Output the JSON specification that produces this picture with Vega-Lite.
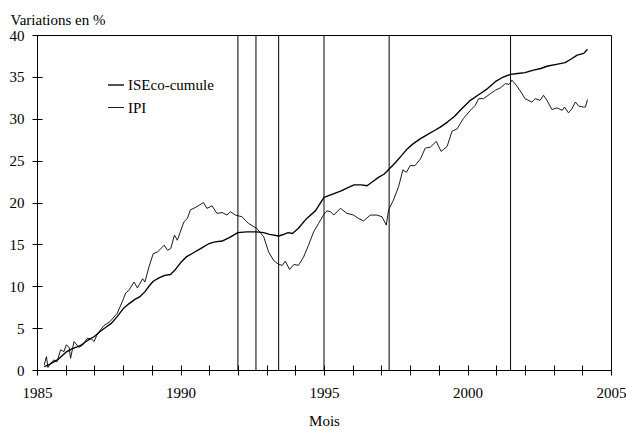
{
  "$schema": "https://vega.github.io/schema/vega-lite/v6.json",
  "width": 574,
  "height": 335,
  "autosize": {"type": "none"},
  "padding": {"left": 37, "top": 35, "right": 15, "bottom": 57},
  "background": "white",
  "config": {
    "view": {"stroke": "black", "strokeWidth": 1},
    "font": "'Liberation Serif', 'Times New Roman', Times, serif",
    "axis": {
      "labelFont": "'Liberation Serif', 'Times New Roman', Times, serif",
      "titleFont": "'Liberation Serif', 'Times New Roman', Times, serif",
      "labelFontSize": 15,
      "titleFontSize": 15,
      "titleFontWeight": "normal",
      "labelColor": "black",
      "titleColor": "black",
      "domainColor": "black",
      "tickColor": "black",
      "labelFlush": false,
      "grid": false
    },
    "legend": {"labelFont": "'Liberation Serif', 'Times New Roman', Times, serif", "labelFontSize": 15, "labelColor": "black"}
  },
  "datasets": {
    "series": [
      {"serie": "ISEco-cumule", "t": 1985.25, "v": 0.4},
      {"serie": "ISEco-cumule", "t": 1985.4, "v": 0.6},
      {"serie": "ISEco-cumule", "t": 1985.6, "v": 1.0},
      {"serie": "ISEco-cumule", "t": 1985.75, "v": 1.3},
      {"serie": "ISEco-cumule", "t": 1986.0, "v": 2.1},
      {"serie": "ISEco-cumule", "t": 1986.2, "v": 2.5},
      {"serie": "ISEco-cumule", "t": 1986.5, "v": 2.9},
      {"serie": "ISEco-cumule", "t": 1986.75, "v": 3.5},
      {"serie": "ISEco-cumule", "t": 1987.0, "v": 4.0},
      {"serie": "ISEco-cumule", "t": 1987.2, "v": 4.6},
      {"serie": "ISEco-cumule", "t": 1987.4, "v": 5.1},
      {"serie": "ISEco-cumule", "t": 1987.6, "v": 5.6},
      {"serie": "ISEco-cumule", "t": 1987.8, "v": 6.4},
      {"serie": "ISEco-cumule", "t": 1988.0, "v": 7.3},
      {"serie": "ISEco-cumule", "t": 1988.2, "v": 7.9},
      {"serie": "ISEco-cumule", "t": 1988.4, "v": 8.4},
      {"serie": "ISEco-cumule", "t": 1988.6, "v": 8.8},
      {"serie": "ISEco-cumule", "t": 1988.75, "v": 9.3},
      {"serie": "ISEco-cumule", "t": 1988.9, "v": 10.0},
      {"serie": "ISEco-cumule", "t": 1989.05, "v": 10.6},
      {"serie": "ISEco-cumule", "t": 1989.25, "v": 11.0},
      {"serie": "ISEco-cumule", "t": 1989.45, "v": 11.3},
      {"serie": "ISEco-cumule", "t": 1989.65, "v": 11.4},
      {"serie": "ISEco-cumule", "t": 1989.8, "v": 11.9},
      {"serie": "ISEco-cumule", "t": 1990.0, "v": 12.8},
      {"serie": "ISEco-cumule", "t": 1990.2, "v": 13.5},
      {"serie": "ISEco-cumule", "t": 1990.45, "v": 14.0},
      {"serie": "ISEco-cumule", "t": 1990.7, "v": 14.5},
      {"serie": "ISEco-cumule", "t": 1991.0, "v": 15.1},
      {"serie": "ISEco-cumule", "t": 1991.2, "v": 15.3},
      {"serie": "ISEco-cumule", "t": 1991.45, "v": 15.4},
      {"serie": "ISEco-cumule", "t": 1991.7, "v": 15.8},
      {"serie": "ISEco-cumule", "t": 1992.0, "v": 16.4},
      {"serie": "ISEco-cumule", "t": 1992.3, "v": 16.5},
      {"serie": "ISEco-cumule", "t": 1992.65, "v": 16.5},
      {"serie": "ISEco-cumule", "t": 1992.9, "v": 16.4},
      {"serie": "ISEco-cumule", "t": 1993.1, "v": 16.2},
      {"serie": "ISEco-cumule", "t": 1993.42, "v": 16.0},
      {"serie": "ISEco-cumule", "t": 1993.6, "v": 16.2},
      {"serie": "ISEco-cumule", "t": 1993.75, "v": 16.4},
      {"serie": "ISEco-cumule", "t": 1993.9, "v": 16.3},
      {"serie": "ISEco-cumule", "t": 1994.1, "v": 16.9},
      {"serie": "ISEco-cumule", "t": 1994.4, "v": 18.1},
      {"serie": "ISEco-cumule", "t": 1994.7, "v": 19.0},
      {"serie": "ISEco-cumule", "t": 1995.0, "v": 20.6},
      {"serie": "ISEco-cumule", "t": 1995.3, "v": 21.0},
      {"serie": "ISEco-cumule", "t": 1995.6, "v": 21.4},
      {"serie": "ISEco-cumule", "t": 1995.85, "v": 21.8},
      {"serie": "ISEco-cumule", "t": 1996.05, "v": 22.1},
      {"serie": "ISEco-cumule", "t": 1996.3, "v": 22.1},
      {"serie": "ISEco-cumule", "t": 1996.5, "v": 22.0},
      {"serie": "ISEco-cumule", "t": 1996.7, "v": 22.5},
      {"serie": "ISEco-cumule", "t": 1996.9, "v": 23.0},
      {"serie": "ISEco-cumule", "t": 1997.1, "v": 23.4},
      {"serie": "ISEco-cumule", "t": 1997.27, "v": 24.0},
      {"serie": "ISEco-cumule", "t": 1997.5, "v": 24.8},
      {"serie": "ISEco-cumule", "t": 1997.7, "v": 25.6},
      {"serie": "ISEco-cumule", "t": 1997.9, "v": 26.4},
      {"serie": "ISEco-cumule", "t": 1998.1, "v": 27.0},
      {"serie": "ISEco-cumule", "t": 1998.35, "v": 27.6},
      {"serie": "ISEco-cumule", "t": 1998.6, "v": 28.1},
      {"serie": "ISEco-cumule", "t": 1998.85, "v": 28.6},
      {"serie": "ISEco-cumule", "t": 1999.05, "v": 29.0},
      {"serie": "ISEco-cumule", "t": 1999.3, "v": 29.6},
      {"serie": "ISEco-cumule", "t": 1999.55, "v": 30.3},
      {"serie": "ISEco-cumule", "t": 1999.8, "v": 31.2},
      {"serie": "ISEco-cumule", "t": 2000.1, "v": 32.2},
      {"serie": "ISEco-cumule", "t": 2000.4, "v": 32.9},
      {"serie": "ISEco-cumule", "t": 2000.7, "v": 33.6},
      {"serie": "ISEco-cumule", "t": 2001.0, "v": 34.5},
      {"serie": "ISEco-cumule", "t": 2001.2, "v": 34.9},
      {"serie": "ISEco-cumule", "t": 2001.5, "v": 35.3},
      {"serie": "ISEco-cumule", "t": 2001.75, "v": 35.4},
      {"serie": "ISEco-cumule", "t": 2002.0, "v": 35.5},
      {"serie": "ISEco-cumule", "t": 2002.3, "v": 35.8},
      {"serie": "ISEco-cumule", "t": 2002.55, "v": 36.0},
      {"serie": "ISEco-cumule", "t": 2002.8, "v": 36.3},
      {"serie": "ISEco-cumule", "t": 2003.1, "v": 36.5},
      {"serie": "ISEco-cumule", "t": 2003.4, "v": 36.7},
      {"serie": "ISEco-cumule", "t": 2003.6, "v": 37.1},
      {"serie": "ISEco-cumule", "t": 2003.82, "v": 37.6},
      {"serie": "ISEco-cumule", "t": 2004.05, "v": 37.8},
      {"serie": "ISEco-cumule", "t": 2004.18, "v": 38.3},
      {"serie": "IPI", "t": 1985.25, "v": 0.6},
      {"serie": "IPI", "t": 1985.33, "v": 1.6},
      {"serie": "IPI", "t": 1985.38, "v": 0.3},
      {"serie": "IPI", "t": 1985.5, "v": 0.9},
      {"serie": "IPI", "t": 1985.59, "v": 1.2},
      {"serie": "IPI", "t": 1985.7, "v": 1.0},
      {"serie": "IPI", "t": 1985.82, "v": 2.4},
      {"serie": "IPI", "t": 1985.94, "v": 2.2},
      {"serie": "IPI", "t": 1986.02, "v": 3.0},
      {"serie": "IPI", "t": 1986.12, "v": 2.7},
      {"serie": "IPI", "t": 1986.17, "v": 1.4},
      {"serie": "IPI", "t": 1986.29, "v": 3.4},
      {"serie": "IPI", "t": 1986.46, "v": 2.7},
      {"serie": "IPI", "t": 1986.6, "v": 3.0},
      {"serie": "IPI", "t": 1986.75, "v": 3.8},
      {"serie": "IPI", "t": 1986.9, "v": 3.7},
      {"serie": "IPI", "t": 1986.99, "v": 3.4},
      {"serie": "IPI", "t": 1987.1, "v": 4.3},
      {"serie": "IPI", "t": 1987.33, "v": 5.3},
      {"serie": "IPI", "t": 1987.55, "v": 5.8},
      {"serie": "IPI", "t": 1987.8, "v": 6.8},
      {"serie": "IPI", "t": 1988.0, "v": 8.4},
      {"serie": "IPI", "t": 1988.09, "v": 9.2},
      {"serie": "IPI", "t": 1988.2, "v": 9.5},
      {"serie": "IPI", "t": 1988.38, "v": 10.5},
      {"serie": "IPI", "t": 1988.5, "v": 9.8},
      {"serie": "IPI", "t": 1988.68, "v": 10.9},
      {"serie": "IPI", "t": 1988.76, "v": 10.5},
      {"serie": "IPI", "t": 1988.9, "v": 12.3},
      {"serie": "IPI", "t": 1989.05, "v": 13.9},
      {"serie": "IPI", "t": 1989.2, "v": 14.1},
      {"serie": "IPI", "t": 1989.43, "v": 14.9},
      {"serie": "IPI", "t": 1989.55, "v": 14.3},
      {"serie": "IPI", "t": 1989.66, "v": 14.5},
      {"serie": "IPI", "t": 1989.79, "v": 16.1},
      {"serie": "IPI", "t": 1989.89, "v": 15.5},
      {"serie": "IPI", "t": 1990.12, "v": 17.7},
      {"serie": "IPI", "t": 1990.24, "v": 18.1},
      {"serie": "IPI", "t": 1990.34, "v": 19.1},
      {"serie": "IPI", "t": 1990.57, "v": 19.5},
      {"serie": "IPI", "t": 1990.8, "v": 20.0},
      {"serie": "IPI", "t": 1990.92, "v": 19.3},
      {"serie": "IPI", "t": 1991.1, "v": 19.6},
      {"serie": "IPI", "t": 1991.27, "v": 18.7},
      {"serie": "IPI", "t": 1991.45, "v": 18.8},
      {"serie": "IPI", "t": 1991.62, "v": 18.5},
      {"serie": "IPI", "t": 1991.74, "v": 18.9},
      {"serie": "IPI", "t": 1991.91, "v": 18.5},
      {"serie": "IPI", "t": 1992.14, "v": 18.3},
      {"serie": "IPI", "t": 1992.37, "v": 17.5},
      {"serie": "IPI", "t": 1992.66, "v": 16.9},
      {"serie": "IPI", "t": 1992.9, "v": 15.9},
      {"serie": "IPI", "t": 1993.07, "v": 14.1},
      {"serie": "IPI", "t": 1993.24, "v": 13.1},
      {"serie": "IPI", "t": 1993.42, "v": 12.6},
      {"serie": "IPI", "t": 1993.55, "v": 12.5},
      {"serie": "IPI", "t": 1993.65, "v": 13.0},
      {"serie": "IPI", "t": 1993.8, "v": 12.0},
      {"serie": "IPI", "t": 1993.95, "v": 12.6},
      {"serie": "IPI", "t": 1994.11, "v": 12.5},
      {"serie": "IPI", "t": 1994.29, "v": 13.5},
      {"serie": "IPI", "t": 1994.46, "v": 14.9},
      {"serie": "IPI", "t": 1994.64, "v": 16.5},
      {"serie": "IPI", "t": 1994.81, "v": 17.5},
      {"serie": "IPI", "t": 1995.0, "v": 18.6},
      {"serie": "IPI", "t": 1995.1, "v": 19.0},
      {"serie": "IPI", "t": 1995.23, "v": 18.9},
      {"serie": "IPI", "t": 1995.34, "v": 18.5},
      {"serie": "IPI", "t": 1995.57, "v": 19.3},
      {"serie": "IPI", "t": 1995.8, "v": 18.7},
      {"serie": "IPI", "t": 1996.03, "v": 18.5},
      {"serie": "IPI", "t": 1996.2, "v": 18.1},
      {"serie": "IPI", "t": 1996.38, "v": 17.8},
      {"serie": "IPI", "t": 1996.61, "v": 18.5},
      {"serie": "IPI", "t": 1996.84, "v": 18.5},
      {"serie": "IPI", "t": 1997.02, "v": 18.3},
      {"serie": "IPI", "t": 1997.17, "v": 17.3},
      {"serie": "IPI", "t": 1997.25, "v": 19.1},
      {"serie": "IPI", "t": 1997.42, "v": 20.3},
      {"serie": "IPI", "t": 1997.6, "v": 21.9},
      {"serie": "IPI", "t": 1997.75, "v": 23.9},
      {"serie": "IPI", "t": 1997.87, "v": 23.6},
      {"serie": "IPI", "t": 1998.0, "v": 24.4},
      {"serie": "IPI", "t": 1998.17, "v": 24.4},
      {"serie": "IPI", "t": 1998.36, "v": 25.2},
      {"serie": "IPI", "t": 1998.53, "v": 26.5},
      {"serie": "IPI", "t": 1998.7, "v": 26.6},
      {"serie": "IPI", "t": 1998.91, "v": 27.3},
      {"serie": "IPI", "t": 1999.08, "v": 26.1},
      {"serie": "IPI", "t": 1999.29, "v": 26.7},
      {"serie": "IPI", "t": 1999.46, "v": 28.5},
      {"serie": "IPI", "t": 1999.64, "v": 28.8},
      {"serie": "IPI", "t": 1999.85, "v": 30.0},
      {"serie": "IPI", "t": 2000.1, "v": 31.0},
      {"serie": "IPI", "t": 2000.27, "v": 31.6},
      {"serie": "IPI", "t": 2000.39, "v": 32.4},
      {"serie": "IPI", "t": 2000.56, "v": 32.4},
      {"serie": "IPI", "t": 2000.8, "v": 33.0},
      {"serie": "IPI", "t": 2000.97, "v": 33.4},
      {"serie": "IPI", "t": 2001.15, "v": 33.7},
      {"serie": "IPI", "t": 2001.32, "v": 34.2},
      {"serie": "IPI", "t": 2001.45, "v": 34.1},
      {"serie": "IPI", "t": 2001.55, "v": 34.6},
      {"serie": "IPI", "t": 2001.7, "v": 34.0},
      {"serie": "IPI", "t": 2001.9, "v": 33.0},
      {"serie": "IPI", "t": 2002.0, "v": 32.4},
      {"serie": "IPI", "t": 2002.24, "v": 32.0},
      {"serie": "IPI", "t": 2002.36, "v": 32.4},
      {"serie": "IPI", "t": 2002.53, "v": 32.2},
      {"serie": "IPI", "t": 2002.65, "v": 32.8},
      {"serie": "IPI", "t": 2002.77, "v": 32.2},
      {"serie": "IPI", "t": 2002.94, "v": 31.1},
      {"serie": "IPI", "t": 2003.12, "v": 31.3},
      {"serie": "IPI", "t": 2003.3, "v": 31.0},
      {"serie": "IPI", "t": 2003.38, "v": 31.4},
      {"serie": "IPI", "t": 2003.52, "v": 30.7},
      {"serie": "IPI", "t": 2003.64, "v": 31.2},
      {"serie": "IPI", "t": 2003.76, "v": 32.0},
      {"serie": "IPI", "t": 2003.88, "v": 31.5},
      {"serie": "IPI", "t": 2004.03, "v": 31.4},
      {"serie": "IPI", "t": 2004.11, "v": 31.4},
      {"serie": "IPI", "t": 2004.18, "v": 32.3}
    ],
    "breaks": [
      {"t": 1992.0},
      {"t": 1992.63},
      {"t": 1993.42},
      {"t": 1995.0},
      {"t": 1997.27},
      {"t": 2001.5}
    ]
  },
  "layer": [
    {
      "data": {"name": "series"},
      "mark": {"type": "line", "strokeJoin": "round"},
      "encoding": {
        "x": {
          "field": "t",
          "type": "quantitative",
          "scale": {"domain": [1985, 2005], "nice": false, "zero": false},
          "axis": {
            "orient": "bottom",
            "values": [1985, 1986, 1987, 1988, 1989, 1990, 1991, 1992, 1993, 1994, 1995, 1996, 1997, 1998, 1999, 2000, 2001, 2002, 2003, 2004, 2005],
            "format": "d",
            "labelExpr": "datum.value % 5 == 0 ? datum.label : ''",
            "tickSize": 5,
            "labelPadding": 10,
            "title": "Mois",
            "titleY": 55,
            "titleBaseline": "alphabetic"
          }
        },
        "y": {
          "field": "v",
          "type": "quantitative",
          "scale": {"domain": [0, 40], "nice": false},
          "axis": {
            "orient": "left",
            "values": [0, 5, 10, 15, 20, 25, 30, 35, 40],
            "tickSize": 5,
            "labelPadding": 8,
            "title": "Variations en %",
            "titleAngle": 0,
            "titleAlign": "left",
            "titleX": -27,
            "titleY": -11,
            "titleBaseline": "alphabetic"
          }
        },
        "color": {
          "field": "serie",
          "type": "nominal",
          "scale": {"domain": ["ISEco-cumule", "IPI"], "range": ["black", "black"]},
          "legend": {
            "title": null,
            "orient": "none",
            "legendX": 70,
            "legendY": 41,
            "padding": 0,
            "symbolType": "stroke",
            "symbolSize": 256,
            "labelOffset": 3,
            "rowPadding": 6
          }
        },
        "strokeWidth": {
          "field": "serie",
          "type": "nominal",
          "scale": {"domain": ["ISEco-cumule", "IPI"], "range": [1.35, 0.9]},
          "legend": {
            "title": null,
            "orient": "none",
            "legendX": 70,
            "legendY": 41,
            "padding": 0,
            "symbolType": "stroke",
            "symbolSize": 256,
            "labelOffset": 3,
            "rowPadding": 6
          }
        }
      }
    },
    {
      "data": {"name": "breaks"},
      "mark": {"type": "rule", "color": "black", "strokeWidth": 1},
      "encoding": {
        "x": {
          "field": "t",
          "type": "quantitative",
          "axis": {
            "orient": "bottom",
            "values": [1985, 1986, 1987, 1988, 1989, 1990, 1991, 1992, 1993, 1994, 1995, 1996, 1997, 1998, 1999, 2000, 2001, 2002, 2003, 2004, 2005],
            "tickSize": -5,
            "labels": false,
            "domain": false,
            "title": null
          }
        },
        "y": {
          "datum": 0,
          "type": "quantitative",
          "axis": {
            "orient": "left",
            "values": [0, 5, 10, 15, 20, 25, 30, 35, 40],
            "tickSize": -5,
            "labels": false,
            "domain": false,
            "title": null
          }
        },
        "y2": {"datum": 40}
      }
    }
  ],
  "resolve": {"axis": {"x": "independent", "y": "independent"}}
}
